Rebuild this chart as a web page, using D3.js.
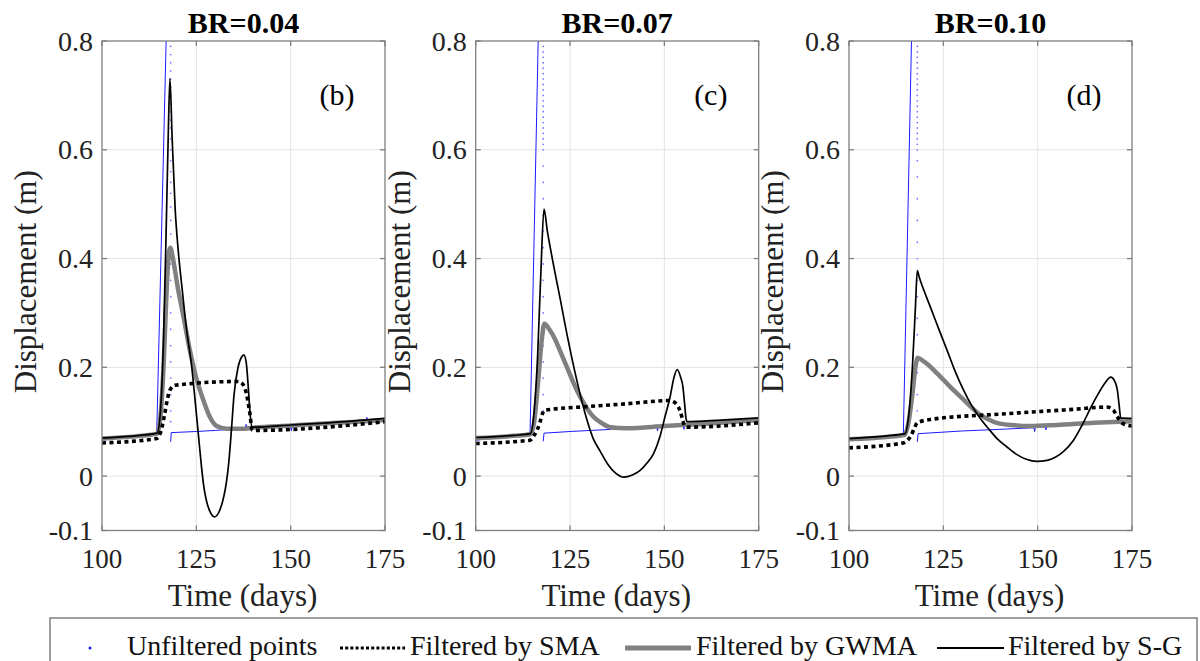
<!DOCTYPE html>
<html>
<head>
<meta charset="utf-8">
<script src="https://cdn.jsdelivr.net/npm/d3@7"></script>
<style>
  body { margin: 0; background: #fff; }
  svg { display: block; }
</style>
</head>
<body>
<div id="chart"></div>
<script>

//Titles, tags and ticks
var titles = ["BR=0.04", "BR=0.07", "BR=0.10"];
var tags = ["(b)", "(c)", "(d)"];
var xTicks = [100, 125, 150, 175];
var yTicks = [-0.1, 0, 0.2, 0.4, 0.6, 0.8];
var gridX = [125, 150];
var gridY = [0, 0.2, 0.4, 0.6];
var legendKeys = ["Unfiltered points", "Filtered by SMA", "Filtered by GWMA", "Filtered by S-G"];

//BR=0.04 -- [day, displacement]
var rawB = [[100,0.066],[114.5,0.077],[117.1,0.83]];
var rawTailB = [[118.2,0.063],[118.35,0.08],[125,0.082],[130,0.084],[138,0.088],[138.2,0.095],[138.4,0.088],[150,0.091],[150.2,0.083],[150.4,0.092],[155,0.094],[155.2,0.086],[155.4,0.095],[170,0.101],[170.2,0.108],[170.4,0.102],[175,0.104]];
var dropDayB = 118.2;
var dropB = [0.79,0.775,0.76,0.745,0.73,0.715,0.70,0.685,0.67,0.655,0.64,0.62,0.60,0.58,0.56,0.54,0.52,0.495,0.47,0.445,0.42,0.39,0.36,0.33,0.30,0.27,0.24,0.21,0.18,0.15,0.12,0.10];
var smaB = [[100,0.061],[114.5,0.069],[115.5,0.08],[116.5,0.11],[117.3,0.14],[118.0,0.158],[119.3,0.167],[136.1,0.174],[137.2,0.17],[137.9,0.161],[138.6,0.14],[139.2,0.115],[139.8,0.085],[140.5,0.084],[175,0.1]];
var gwmaB = [[100,0.069],[110,0.074],[114.6,0.078],[115.5,0.11],[116.3,0.2],[117.0,0.32],[117.6,0.40],[118.1,0.42],[118.8,0.40],[120,0.35],[121.6,0.293],[123.3,0.231],[125,0.18],[126.9,0.139],[128.5,0.11],[130.4,0.092],[133,0.087],[137,0.087],[140,0.089],[150,0.093],[160,0.097],[175,0.103]];
var sgB = [[100,0.070],[110,0.075],[114.6,0.079],[115.5,0.12],[116.3,0.25],[117.0,0.45],[117.6,0.64],[118.0,0.731],[118.6,0.62],[119.4,0.49],[120.2,0.415],[121.3,0.34],[122.4,0.27],[123.8,0.2],[124.8,0.13],[125.6,0.072],[126.3,0.022],[126.9,-0.015],[127.6,-0.043],[128.6,-0.065],[129.8,-0.075],[131,-0.066],[132.2,-0.04],[133.0,-0.01],[133.6,0.025],[134.3,0.085],[135.0,0.15],[136.0,0.198],[137.0,0.219],[137.6,0.223],[138.2,0.21],[138.8,0.16],[139.3,0.11],[139.8,0.09],[150,0.094],[160,0.098],[175,0.106]];

//BR=0.07
var rawC = [[100,0.066],[114.4,0.077],[116.65,0.83]];
var rawTailC = [[117.9,0.064],[118.1,0.079],[125,0.082],[136,0.086],[136.2,0.093],[136.4,0.086],[148,0.09],[148.2,0.083],[148.4,0.091],[155,0.094],[155.2,0.086],[155.4,0.095],[170,0.1],[170.2,0.106],[170.4,0.101],[175,0.103]];
var dropDayC = 117.9;
var dropC = [0.79,0.78,0.77,0.76,0.75,0.74,0.73,0.72,0.71,0.70,0.69,0.68,0.67,0.66,0.65,0.64,0.63,0.62,0.61,0.60,0.57,0.54,0.51,0.48,0.45,0.42,0.39,0.36,0.33,0.30,0.27,0.24,0.21,0.18,0.15,0.12];
var smaC = [[100,0.06],[114.4,0.066],[115.5,0.075],[116.3,0.085],[117,0.098],[117.7,0.115],[118.2,0.121],[130,0.128],[140,0.133],[151.5,0.139],[152.8,0.135],[154.1,0.121],[154.8,0.105],[155.3,0.093],[156,0.09],[175,0.098]];
var gwmaC = [[100,0.07],[110,0.074],[114.5,0.077],[115.5,0.1],[116.5,0.17],[117.5,0.25],[118.2,0.28],[119.5,0.27],[121,0.252],[122.3,0.231],[124.5,0.195],[126.8,0.158],[129,0.13],[131.2,0.109],[133.5,0.097],[135.6,0.09],[140,0.088],[150,0.092],[160,0.096],[175,0.103]];
var sgC = [[100,0.071],[110,0.075],[114.5,0.078],[115.5,0.12],[116.4,0.22],[117.3,0.38],[118.1,0.491],[119,0.45],[120.3,0.4],[122.3,0.329],[124.5,0.25],[126.8,0.176],[129,0.115],[131.2,0.068],[132.9,0.047],[135,0.022],[137,0.006],[139.3,-0.002],[141.5,0.002],[143.5,0.01],[145.5,0.025],[147.1,0.041],[148.8,0.072],[150.2,0.11],[151.5,0.145],[152.5,0.18],[153.4,0.196],[154.3,0.182],[154.9,0.165],[155.4,0.13],[155.7,0.108],[156,0.1],[165,0.103],[175,0.107]];

//BR=0.10
var rawD = [[100,0.066],[114.4,0.076],[116.65,0.83]];
var rawTailD = [[118.1,0.063],[118.3,0.078],[130,0.083],[140,0.086],[149,0.089],[149.2,0.082],[149.4,0.09],[152,0.091],[152.2,0.085],[152.4,0.092],[165,0.097],[172,0.1],[172.2,0.105],[172.4,0.1],[175,0.102]];
var dropDayD = 118.1;
var dropD = [0.79,0.78,0.77,0.76,0.75,0.74,0.73,0.72,0.71,0.70,0.69,0.68,0.67,0.66,0.65,0.64,0.63,0.62,0.61,0.60,0.58,0.55,0.51,0.47,0.43,0.40,0.36,0.33,0.29,0.26,0.22,0.19,0.15,0.12];
var smaD = [[100,0.052],[114.4,0.061],[115.5,0.066],[116.5,0.075],[117.3,0.088],[118.1,0.098],[121.5,0.104],[140,0.114],[160,0.123],[168.3,0.127],[170,0.122],[170.8,0.113],[171.6,0.104],[172.5,0.097],[175,0.092]];
var gwmaD = [[100,0.068],[110,0.072],[114.8,0.076],[115.8,0.1],[116.8,0.15],[117.6,0.2],[118.2,0.217],[120,0.21],[123.2,0.19],[126.7,0.165],[130.3,0.141],[132.5,0.126],[134.7,0.113],[137,0.104],[139.1,0.098],[143,0.094],[148,0.092],[155,0.094],[165,0.098],[175,0.101]];
var sgD = [[100,0.069],[110,0.074],[114.8,0.078],[115.8,0.11],[116.8,0.2],[117.6,0.31],[118.1,0.378],[118.6,0.366],[119.5,0.348],[121.5,0.312],[123.7,0.272],[125.9,0.233],[128,0.195],[130.3,0.159],[132.5,0.13],[134.7,0.107],[137,0.087],[139.1,0.07],[141.8,0.054],[144.4,0.04],[147,0.031],[149.7,0.027],[152.5,0.029],[154.8,0.035],[156.8,0.045],[159.5,0.066],[162.1,0.098],[164,0.125],[165.7,0.147],[167.7,0.17],[169.4,0.182],[170.3,0.176],[171.1,0.159],[171.6,0.13],[172,0.107],[175,0.106]];

var makeChart = function() {

    //Width and height
    var w = 1200;
    var h = 661;
    var plotW = 283;
    var plotTop = 41;
    var plotBottom = 530.5;
    var lefts = [102, 475.7, 849];
    var tickLen = 5;
    var axisColor = "#7f7f7f";
    var serif = "'Liberation Serif', Tinos, 'Times New Roman', 'DejaVu Serif', serif";

    //Panel table built from the arrays above
    var panels = [
        {raw: rawB, tail: rawTailB, dropDay: dropDayB, drop: dropB, sma: smaB, gwma: gwmaB, sg: sgB},
        {raw: rawC, tail: rawTailC, dropDay: dropDayC, drop: dropC, sma: smaC, gwma: gwmaC, sg: sgC},
        {raw: rawD, tail: rawTailD, dropDay: dropDayD, drop: dropD, sma: smaD, gwma: gwmaD, sg: sgD}
    ];

    var chart = d3.select("#chart")
        .append("svg")
        .attr("width", w)
        .attr("height", h)
        .attr("font-family", serif)
        .style("font-family", serif);

    var y = d3.scaleLinear()
        .domain([-0.1, 0.8])
        .range([plotBottom, plotTop]);

    panels.forEach(function(p, i) {

        var left = lefts[i];
        var x = d3.scaleLinear()
            .domain([100, 175])
            .range([left, left + plotW]);

        var g = chart.append("g").attr("class", "panel-" + i);

        //Clip so steep lines stop at the box
        chart.append("clipPath")
            .attr("id", "clip" + i)
            .append("rect")
            .attr("x", left)
            .attr("y", plotTop)
            .attr("width", plotW)
            .attr("height", plotBottom - plotTop);

        //Grid
        g.selectAll(".gx")
            .data(gridX)
            .enter()
            .append("line")
            .attr("x1", d => x(d))
            .attr("x2", d => x(d))
            .attr("y1", plotTop)
            .attr("y2", plotBottom)
            .style("stroke", "#e3e3e3")
            .style("stroke-width", 1);

        g.selectAll(".gy")
            .data(gridY)
            .enter()
            .append("line")
            .attr("x1", left)
            .attr("x2", left + plotW)
            .attr("y1", d => y(d))
            .attr("y2", d => y(d))
            .style("stroke", "#e3e3e3")
            .style("stroke-width", 1);

        //Lines
        var lines = g.append("g").attr("clip-path", "url(#clip" + i + ")");

        var straight = d3.line()
            .x(d => x(d[0]))
            .y(d => y(d[1]));

        var mono = d3.line()
            .x(d => x(d[0]))
            .y(d => y(d[1]))
            .curve(d3.curveMonotoneX);

        //Unfiltered points
        lines.append("path")
            .attr("d", straight(p.raw))
            .style("fill", "none")
            .style("stroke", "#1a1aff")
            .style("stroke-width", 1);

        lines.append("path")
            .attr("d", straight(p.tail))
            .style("fill", "none")
            .style("stroke", "#1a1aff")
            .style("stroke-width", 1);

        lines.selectAll(".drop")
            .data(p.drop)
            .enter()
            .append("circle")
            .attr("cx", x(p.dropDay))
            .attr("cy", d => y(d))
            .attr("r", 0.9)
            .style("fill", "#7a7aff");

        //GWMA
        lines.append("path")
            .attr("d", mono(p.gwma))
            .style("fill", "none")
            .style("stroke", "#808080")
            .style("stroke-width", 4.5)
            .style("stroke-linejoin", "round");

        //SMA
        lines.append("path")
            .attr("d", mono(p.sma))
            .style("fill", "none")
            .style("stroke", "#000")
            .style("stroke-width", 3.6)
            .style("stroke-dasharray", "4,3.5");

        //S-G
        lines.append("path")
            .attr("d", mono(p.sg))
            .style("fill", "none")
            .style("stroke", "#000")
            .style("stroke-width", 1.7)
            .style("stroke-linejoin", "round");

        //Box
        g.append("rect")
            .attr("x", left)
            .attr("y", plotTop)
            .attr("width", plotW)
            .attr("height", plotBottom - plotTop)
            .style("fill", "none")
            .style("stroke", axisColor)
            .style("stroke-width", 1.3);

        //Inward ticks on all four sides
        xTicks.forEach(function(t) {
            g.append("line").attr("x1", x(t)).attr("x2", x(t))
                .attr("y1", plotBottom).attr("y2", plotBottom - tickLen)
                .style("stroke", axisColor).style("stroke-width", 1.3);
            g.append("line").attr("x1", x(t)).attr("x2", x(t))
                .attr("y1", plotTop).attr("y2", plotTop + tickLen)
                .style("stroke", axisColor).style("stroke-width", 1.3);
        });
        yTicks.forEach(function(t) {
            g.append("line").attr("x1", left).attr("x2", left + tickLen)
                .attr("y1", y(t)).attr("y2", y(t))
                .style("stroke", axisColor).style("stroke-width", 1.3);
            g.append("line").attr("x1", left + plotW).attr("x2", left + plotW - tickLen)
                .attr("y1", y(t)).attr("y2", y(t))
                .style("stroke", axisColor).style("stroke-width", 1.3);
        });

        //Tick labels
        g.selectAll(".xl")
            .data(xTicks)
            .enter()
            .append("text")
            .attr("x", d => x(d))
            .attr("y", 568)
            .attr("text-anchor", "middle")
            .style("font-size", "27px")
            .style("fill", "#222")
            .text(d => d);

        g.selectAll(".yl")
            .data(yTicks)
            .enter()
            .append("text")
            .attr("x", left - 9)
            .attr("y", d => y(d))
            .attr("dy", "0.34em")
            .attr("text-anchor", "end")
            .style("font-size", "28px")
            .style("fill", "#222")
            .text(d => d);

        //Title and tag
        g.append("text")
            .attr("x", left + plotW / 2)
            .attr("y", 33)
            .attr("text-anchor", "middle")
            .style("font-size", "30px")
            .style("font-weight", "bold")
            .text(titles[i]);

        g.append("text")
            .attr("x", x(162.3))
            .attr("y", y(0.682))
            .attr("text-anchor", "middle")
            .style("font-size", "30px")
            .text(tags[i]);

        //Axis labels
        g.append("text")
            .attr("x", left + plotW / 2 - 1)
            .attr("y", 606)
            .attr("text-anchor", "middle")
            .style("font-size", "31px")
            .style("fill", "#222")
            .text("Time (days)");

        g.append("text")
            .attr("transform", "translate(" + (left - 66) + "," + ((plotTop + plotBottom) / 2 - 4) + ") rotate(-90)")
            .attr("text-anchor", "middle")
            .style("font-size", "31px")
            .style("fill", "#222")
            .text("Displacement (m)");
    });

    //Legend
    var legend = chart.append("g").attr("class", "legend");
    var lgY = 648;

    legend.append("rect")
        .attr("x", 50)
        .attr("y", 618)
        .attr("width", 1147)
        .attr("height", 70)
        .style("fill", "#fff")
        .style("stroke", axisColor)
        .style("stroke-width", 1.5);

    legend.append("circle")
        .attr("cx", 90).attr("cy", lgY).attr("r", 1.5)
        .style("fill", "#1a1aff");

    legend.append("line")
        .attr("x1", 340).attr("x2", 405).attr("y1", lgY).attr("y2", lgY)
        .style("stroke", "#000").style("stroke-width", 3)
        .style("stroke-dasharray", "3,2.2");

    legend.append("line")
        .attr("x1", 625).attr("x2", 691).attr("y1", lgY).attr("y2", lgY)
        .style("stroke", "#808080").style("stroke-width", 5);

    legend.append("line")
        .attr("x1", 937).attr("x2", 1004).attr("y1", lgY).attr("y2", lgY)
        .style("stroke", "#000").style("stroke-width", 2);

    var lgX = [127, 410, 696, 1008];
    legend.selectAll(".lgText")
        .data(legendKeys)
        .enter()
        .append("text")
        .attr("x", (d, i) => lgX[i])
        .attr("y", 655)
        .style("font-size", "28px")
        .style("fill", "#111")
        .text(d => d);
}

makeChart();
</script>
</body>
</html>
